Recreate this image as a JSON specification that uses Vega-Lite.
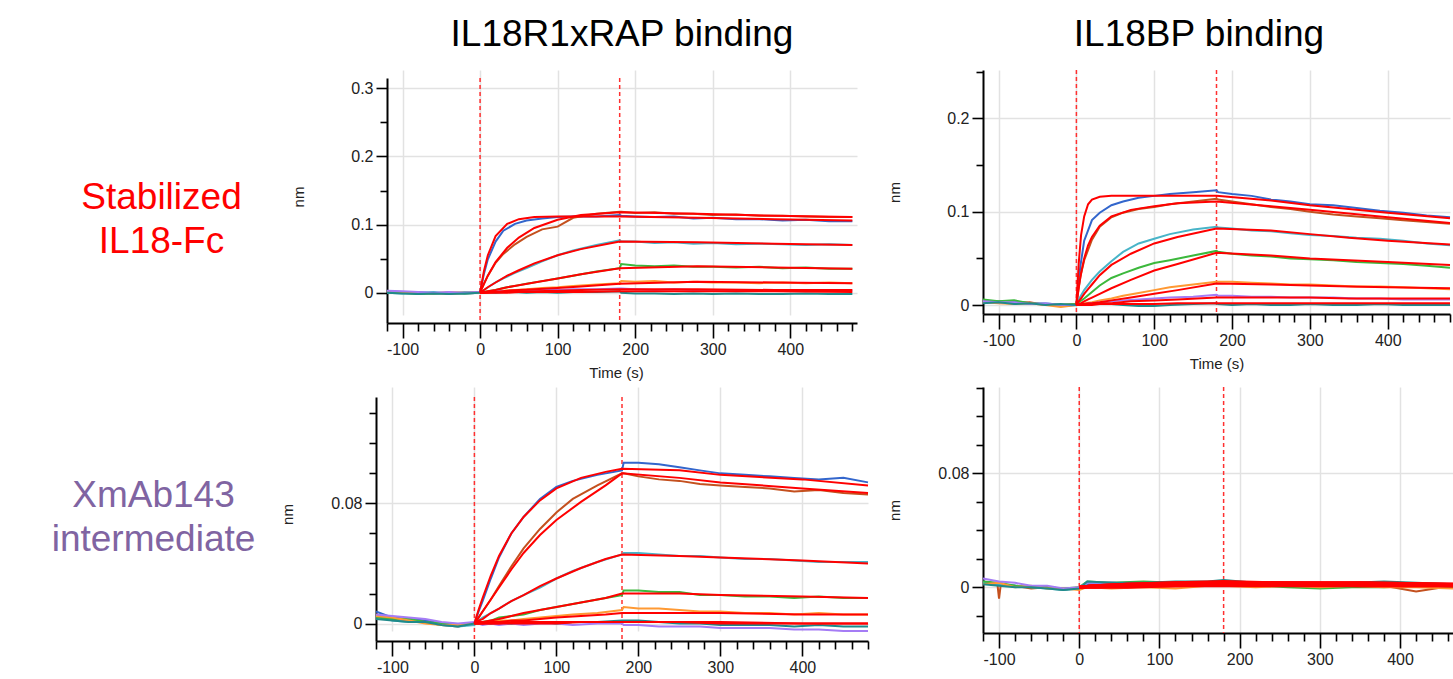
{
"$schema": "https://vega.github.io/schema/vega-lite/v6.json",
"padding": 0,
"background": "white",
"columns": 5,
"spacing": 0,
"align": "each",
"bounds": "flush",
"config": {
 "view": {"stroke": null},
 "axis": {"domainColor": "#000", "domainWidth": 2, "tickColor": "#000", "tickWidth": 1.6, "tickCount": 100, "labelFont": "Liberation Sans", "labelFontSize": 16, "labelColor": "#222", "labelFlush": false, "labelOverlap": false, "titleFont": "Liberation Sans", "titleFontSize": 15, "titleFontWeight": "normal", "titleColor": "#222", "gridColor": "#e2e2e2", "gridWidth": 1.5}
},
"datasets": {
 "vl": [{"t":0},{"t":180}],
 "t1": [{"txt":"IL18R1xRAP binding"}],
 "t2": [{"txt":"IL18BP binding"}],
 "r1": [{"txt":"Stabilized\nIL18-Fc"}],
 "r2": [{"txt":"XmAb143\nintermediate"}],
 "tl": [
{"s":"b","t":-120,"v":0.002},{"s":"b","t":-100,"v":0},{"s":"b","t":-80,"v":0.001},{"s":"b","t":-60,"v":-0.001},{"s":"b","t":-40,"v":0},{"s":"b","t":-20,"v":-0.001},{"s":"b","t":0,"v":0},
{"s":"b","t":5,"v":0.028},{"s":"b","t":10,"v":0.049},{"s":"b","t":20,"v":0.075},{"s":"b","t":30,"v":0.091},{"s":"b","t":45,"v":0.101},{"s":"b","t":60,"v":0.106},{"s":"b","t":80,"v":0.109},{"s":"b","t":100,"v":0.111},{"s":"b","t":120,"v":0.112},{"s":"b","t":150,"v":0.112},{"s":"b","t":180,"v":0.114},
{"s":"b","t":182,"v":0.113},{"s":"b","t":200,"v":0.112},{"s":"b","t":225,"v":0.111},{"s":"b","t":250,"v":0.112},{"s":"b","t":275,"v":0.109},{"s":"b","t":300,"v":0.11},{"s":"b","t":330,"v":0.108},{"s":"b","t":360,"v":0.108},{"s":"b","t":390,"v":0.106},{"s":"b","t":420,"v":0.107},{"s":"b","t":450,"v":0.105},{"s":"b","t":480,"v":0.105},
{"s":"r","t":-120,"v":0.001},{"s":"r","t":-100,"v":0.001},{"s":"r","t":-80,"v":-0.001},{"s":"r","t":-60,"v":0},{"s":"r","t":-40,"v":-0.002},{"s":"r","t":-20,"v":0},{"s":"r","t":0,"v":0.001},
{"s":"r","t":5,"v":0.013},{"s":"r","t":10,"v":0.025},{"s":"r","t":20,"v":0.044},{"s":"r","t":30,"v":0.057},{"s":"r","t":45,"v":0.071},{"s":"r","t":60,"v":0.082},{"s":"r","t":80,"v":0.093},{"s":"r","t":100,"v":0.097},{"s":"r","t":120,"v":0.11},{"s":"r","t":150,"v":0.116},{"s":"r","t":180,"v":0.119},
{"s":"r","t":182,"v":0.119},{"s":"r","t":200,"v":0.117},{"s":"r","t":225,"v":0.118},{"s":"r","t":250,"v":0.116},{"s":"r","t":275,"v":0.116},{"s":"r","t":300,"v":0.114},{"s":"r","t":330,"v":0.115},{"s":"r","t":360,"v":0.113},{"s":"r","t":390,"v":0.113},{"s":"r","t":420,"v":0.112},{"s":"r","t":450,"v":0.111},{"s":"r","t":480,"v":0.111},
{"s":"c","t":-120,"v":0},{"s":"c","t":-100,"v":-0.001},{"s":"c","t":-80,"v":0},{"s":"c","t":-60,"v":0.001},{"s":"c","t":-40,"v":-0.001},{"s":"c","t":-20,"v":0.001},{"s":"c","t":0,"v":0},
{"s":"c","t":5,"v":0.004},{"s":"c","t":10,"v":0.008},{"s":"c","t":20,"v":0.015},{"s":"c","t":30,"v":0.021},{"s":"c","t":45,"v":0.029},{"s":"c","t":60,"v":0.036},{"s":"c","t":80,"v":0.046},{"s":"c","t":100,"v":0.055},{"s":"c","t":120,"v":0.062},{"s":"c","t":150,"v":0.07},{"s":"c","t":180,"v":0.077},
{"s":"c","t":182,"v":0.075},{"s":"c","t":200,"v":0.075},{"s":"c","t":225,"v":0.073},{"s":"c","t":250,"v":0.074},{"s":"c","t":275,"v":0.072},{"s":"c","t":300,"v":0.073},{"s":"c","t":330,"v":0.071},{"s":"c","t":360,"v":0.072},{"s":"c","t":390,"v":0.071},{"s":"c","t":420,"v":0.07},{"s":"c","t":450,"v":0.071},{"s":"c","t":480,"v":0.07},
{"s":"g","t":-120,"v":0.001},{"s":"g","t":-100,"v":0},{"s":"g","t":-80,"v":-0.002},{"s":"g","t":-60,"v":-0.001},{"s":"g","t":-40,"v":0},{"s":"g","t":-20,"v":-0.001},{"s":"g","t":0,"v":0},
{"s":"g","t":5,"v":0.001},{"s":"g","t":10,"v":0.002},{"s":"g","t":20,"v":0.004},{"s":"g","t":30,"v":0.007},{"s":"g","t":45,"v":0.01},{"s":"g","t":60,"v":0.013},{"s":"g","t":80,"v":0.017},{"s":"g","t":100,"v":0.021},{"s":"g","t":120,"v":0.025},{"s":"g","t":150,"v":0.031},{"s":"g","t":180,"v":0.036},
{"s":"g","t":182,"v":0.042},{"s":"g","t":200,"v":0.04},{"s":"g","t":225,"v":0.039},{"s":"g","t":250,"v":0.04},{"s":"g","t":275,"v":0.038},{"s":"g","t":300,"v":0.038},{"s":"g","t":330,"v":0.037},{"s":"g","t":360,"v":0.038},{"s":"g","t":390,"v":0.036},{"s":"g","t":420,"v":0.037},{"s":"g","t":450,"v":0.035},{"s":"g","t":480,"v":0.035},
{"s":"o","t":-120,"v":0.002},{"s":"o","t":-100,"v":0.001},{"s":"o","t":-80,"v":0},{"s":"o","t":-60,"v":-0.001},{"s":"o","t":-40,"v":0.001},{"s":"o","t":-20,"v":0},{"s":"o","t":0,"v":0},
{"s":"o","t":5,"v":0},{"s":"o","t":10,"v":0.001},{"s":"o","t":20,"v":0.002},{"s":"o","t":30,"v":0.003},{"s":"o","t":45,"v":0.004},{"s":"o","t":60,"v":0.005},{"s":"o","t":80,"v":0.007},{"s":"o","t":100,"v":0.008},{"s":"o","t":120,"v":0.01},{"s":"o","t":150,"v":0.012},{"s":"o","t":180,"v":0.014},
{"s":"o","t":182,"v":0.017},{"s":"o","t":200,"v":0.016},{"s":"o","t":225,"v":0.017},{"s":"o","t":250,"v":0.015},{"s":"o","t":275,"v":0.016},{"s":"o","t":300,"v":0.015},{"s":"o","t":330,"v":0.015},{"s":"o","t":360,"v":0.014},{"s":"o","t":390,"v":0.015},{"s":"o","t":420,"v":0.014},{"s":"o","t":450,"v":0.015},{"s":"o","t":480,"v":0.014},
{"s":"p","t":-120,"v":0.003},{"s":"p","t":-100,"v":0.002},{"s":"p","t":-80,"v":0.001},{"s":"p","t":-60,"v":0},{"s":"p","t":-40,"v":0.001},{"s":"p","t":-20,"v":0},{"s":"p","t":0,"v":0.001},
{"s":"p","t":5,"v":0.001},{"s":"p","t":10,"v":0.001},{"s":"p","t":20,"v":0.002},{"s":"p","t":30,"v":0.002},{"s":"p","t":45,"v":0.003},{"s":"p","t":60,"v":0.003},{"s":"p","t":80,"v":0.004},{"s":"p","t":100,"v":0.004},{"s":"p","t":120,"v":0.005},{"s":"p","t":150,"v":0.005},{"s":"p","t":180,"v":0.006},
{"s":"p","t":182,"v":0.006},{"s":"p","t":200,"v":0.005},{"s":"p","t":225,"v":0.004},{"s":"p","t":250,"v":0.005},{"s":"p","t":275,"v":0.004},{"s":"p","t":300,"v":0.004},{"s":"p","t":330,"v":0.003},{"s":"p","t":360,"v":0.004},{"s":"p","t":390,"v":0.003},{"s":"p","t":420,"v":0.003},{"s":"p","t":450,"v":0.004},{"s":"p","t":480,"v":0.003},
{"s":"t","t":-120,"v":0},{"s":"t","t":-100,"v":-0.001},{"s":"t","t":-80,"v":-0.002},{"s":"t","t":-60,"v":-0.001},{"s":"t","t":-40,"v":-0.002},{"s":"t","t":-20,"v":-0.001},{"s":"t","t":0,"v":0},
{"s":"t","t":5,"v":0},{"s":"t","t":10,"v":0.001},{"s":"t","t":20,"v":0},{"s":"t","t":30,"v":0.001},{"s":"t","t":45,"v":0.001},{"s":"t","t":60,"v":0},{"s":"t","t":80,"v":0.001},{"s":"t","t":100,"v":0},{"s":"t","t":120,"v":0.001},{"s":"t","t":150,"v":0.001},{"s":"t","t":180,"v":0.002},
{"s":"t","t":182,"v":0},{"s":"t","t":200,"v":-0.001},{"s":"t","t":225,"v":-0.001},{"s":"t","t":250,"v":-0.002},{"s":"t","t":275,"v":-0.001},{"s":"t","t":300,"v":-0.002},{"s":"t","t":330,"v":-0.001},{"s":"t","t":360,"v":-0.002},{"s":"t","t":390,"v":-0.002},{"s":"t","t":420,"v":-0.001},{"s":"t","t":450,"v":-0.002},{"s":"t","t":480,"v":-0.002}
 ],
 "tlf": [
{"s":"b","t":0,"v":0},{"s":"b","t":5,"v":0.032},{"s":"b","t":10,"v":0.055},{"s":"b","t":20,"v":0.083},{"s":"b","t":35,"v":0.101},{"s":"b","t":50,"v":0.108},{"s":"b","t":70,"v":0.111},{"s":"b","t":100,"v":0.112},{"s":"b","t":130,"v":0.112},{"s":"b","t":180,"v":0.112},{"s":"b","t":280,"v":0.11},{"s":"b","t":380,"v":0.108},{"s":"b","t":480,"v":0.106},
{"s":"r","t":0,"v":0},{"s":"r","t":5,"v":0.013},{"s":"r","t":10,"v":0.025},{"s":"r","t":20,"v":0.045},{"s":"r","t":35,"v":0.066},{"s":"r","t":50,"v":0.081},{"s":"r","t":70,"v":0.095},{"s":"r","t":100,"v":0.107},{"s":"r","t":130,"v":0.114},{"s":"r","t":180,"v":0.118},{"s":"r","t":280,"v":0.116},{"s":"r","t":380,"v":0.113},{"s":"r","t":480,"v":0.111},
{"s":"c","t":0,"v":0},{"s":"c","t":5,"v":0.004},{"s":"c","t":10,"v":0.008},{"s":"c","t":20,"v":0.015},{"s":"c","t":35,"v":0.025},{"s":"c","t":50,"v":0.033},{"s":"c","t":70,"v":0.043},{"s":"c","t":100,"v":0.055},{"s":"c","t":130,"v":0.064},{"s":"c","t":180,"v":0.075},{"s":"c","t":280,"v":0.074},{"s":"c","t":380,"v":0.072},{"s":"c","t":480,"v":0.07},
{"s":"g","t":0,"v":0},{"s":"g","t":5,"v":0.001},{"s":"g","t":10,"v":0.002},{"s":"g","t":20,"v":0.004},{"s":"g","t":35,"v":0.008},{"s":"g","t":50,"v":0.011},{"s":"g","t":70,"v":0.015},{"s":"g","t":100,"v":0.021},{"s":"g","t":130,"v":0.027},{"s":"g","t":180,"v":0.036},{"s":"g","t":280,"v":0.039},{"s":"g","t":380,"v":0.037},{"s":"g","t":480,"v":0.035},
{"s":"o","t":0,"v":0},{"s":"o","t":5,"v":0},{"s":"o","t":10,"v":0.001},{"s":"o","t":20,"v":0.001},{"s":"o","t":35,"v":0.003},{"s":"o","t":50,"v":0.004},{"s":"o","t":70,"v":0.005},{"s":"o","t":100,"v":0.007},{"s":"o","t":130,"v":0.009},{"s":"o","t":180,"v":0.013},{"s":"o","t":280,"v":0.016},{"s":"o","t":380,"v":0.015},{"s":"o","t":480,"v":0.014},
{"s":"p","t":0,"v":0},{"s":"p","t":5,"v":0},{"s":"p","t":10,"v":0},{"s":"p","t":20,"v":0.001},{"s":"p","t":35,"v":0.001},{"s":"p","t":50,"v":0.002},{"s":"p","t":70,"v":0.002},{"s":"p","t":100,"v":0.003},{"s":"p","t":130,"v":0.004},{"s":"p","t":180,"v":0.005},{"s":"p","t":280,"v":0.005},{"s":"p","t":380,"v":0.004},{"s":"p","t":480,"v":0.004},
{"s":"t","t":0,"v":0},{"s":"t","t":5,"v":0},{"s":"t","t":10,"v":0},{"s":"t","t":20,"v":0},{"s":"t","t":35,"v":0},{"s":"t","t":50,"v":0.001},{"s":"t","t":70,"v":0.001},{"s":"t","t":100,"v":0.001},{"s":"t","t":130,"v":0.001},{"s":"t","t":180,"v":0.002},{"s":"t","t":280,"v":0.002},{"s":"t","t":380,"v":0.002},{"s":"t","t":480,"v":0.001}
 ],
 "tr": [
{"s":"b","t":-120,"v":0.005},{"s":"b","t":-100,"v":0.003},{"s":"b","t":-80,"v":0.004},{"s":"b","t":-60,"v":0.002},{"s":"b","t":-40,"v":0.001},{"s":"b","t":-20,"v":-0.001},{"s":"b","t":0,"v":0},
{"s":"b","t":5,"v":0.041},{"s":"b","t":10,"v":0.069},{"s":"b","t":20,"v":0.091},{"s":"b","t":30,"v":0.099},{"s":"b","t":45,"v":0.107},{"s":"b","t":60,"v":0.111},{"s":"b","t":80,"v":0.115},{"s":"b","t":100,"v":0.117},{"s":"b","t":120,"v":0.119},{"s":"b","t":150,"v":0.121},{"s":"b","t":180,"v":0.123},
{"s":"b","t":182,"v":0.121},{"s":"b","t":200,"v":0.119},{"s":"b","t":225,"v":0.117},{"s":"b","t":250,"v":0.113},{"s":"b","t":275,"v":0.111},{"s":"b","t":300,"v":0.108},{"s":"b","t":330,"v":0.107},{"s":"b","t":360,"v":0.104},{"s":"b","t":390,"v":0.101},{"s":"b","t":420,"v":0.099},{"s":"b","t":450,"v":0.096},{"s":"b","t":480,"v":0.094},
{"s":"r","t":-120,"v":0.004},{"s":"r","t":-100,"v":0.004},{"s":"r","t":-80,"v":0.002},{"s":"r","t":-60,"v":0.003},{"s":"r","t":-40,"v":0},{"s":"r","t":-20,"v":0},{"s":"r","t":0,"v":0.001},
{"s":"r","t":5,"v":0.03},{"s":"r","t":10,"v":0.048},{"s":"r","t":20,"v":0.07},{"s":"r","t":30,"v":0.084},{"s":"r","t":45,"v":0.094},{"s":"r","t":60,"v":0.099},{"s":"r","t":80,"v":0.103},{"s":"r","t":100,"v":0.105},{"s":"r","t":120,"v":0.108},{"s":"r","t":150,"v":0.111},{"s":"r","t":180,"v":0.114},
{"s":"r","t":182,"v":0.113},{"s":"r","t":200,"v":0.111},{"s":"r","t":225,"v":0.108},{"s":"r","t":250,"v":0.105},{"s":"r","t":275,"v":0.103},{"s":"r","t":300,"v":0.1},{"s":"r","t":330,"v":0.097},{"s":"r","t":360,"v":0.095},{"s":"r","t":390,"v":0.093},{"s":"r","t":420,"v":0.091},{"s":"r","t":450,"v":0.089},{"s":"r","t":480,"v":0.087},
{"s":"c","t":-120,"v":0.003},{"s":"c","t":-100,"v":0.004},{"s":"c","t":-80,"v":0.002},{"s":"c","t":-60,"v":0.001},{"s":"c","t":-40,"v":0.002},{"s":"c","t":-20,"v":0},{"s":"c","t":0,"v":0},
{"s":"c","t":5,"v":0.009},{"s":"c","t":10,"v":0.016},{"s":"c","t":20,"v":0.027},{"s":"c","t":30,"v":0.036},{"s":"c","t":45,"v":0.047},{"s":"c","t":60,"v":0.057},{"s":"c","t":80,"v":0.066},{"s":"c","t":100,"v":0.071},{"s":"c","t":120,"v":0.076},{"s":"c","t":150,"v":0.081},{"s":"c","t":180,"v":0.084},
{"s":"c","t":182,"v":0.083},{"s":"c","t":200,"v":0.082},{"s":"c","t":225,"v":0.08},{"s":"c","t":250,"v":0.079},{"s":"c","t":275,"v":0.077},{"s":"c","t":300,"v":0.075},{"s":"c","t":330,"v":0.074},{"s":"c","t":360,"v":0.072},{"s":"c","t":390,"v":0.071},{"s":"c","t":420,"v":0.069},{"s":"c","t":450,"v":0.066},{"s":"c","t":480,"v":0.064},
{"s":"g","t":-120,"v":0.006},{"s":"g","t":-100,"v":0.004},{"s":"g","t":-80,"v":0.005},{"s":"g","t":-60,"v":0.002},{"s":"g","t":-40,"v":0.001},{"s":"g","t":-20,"v":0},{"s":"g","t":0,"v":0.001},
{"s":"g","t":5,"v":0.004},{"s":"g","t":10,"v":0.007},{"s":"g","t":20,"v":0.014},{"s":"g","t":30,"v":0.021},{"s":"g","t":45,"v":0.029},{"s":"g","t":60,"v":0.034},{"s":"g","t":80,"v":0.04},{"s":"g","t":100,"v":0.045},{"s":"g","t":120,"v":0.048},{"s":"g","t":150,"v":0.053},{"s":"g","t":180,"v":0.058},
{"s":"g","t":182,"v":0.057},{"s":"g","t":200,"v":0.055},{"s":"g","t":225,"v":0.053},{"s":"g","t":250,"v":0.052},{"s":"g","t":275,"v":0.05},{"s":"g","t":300,"v":0.049},{"s":"g","t":330,"v":0.048},{"s":"g","t":360,"v":0.046},{"s":"g","t":390,"v":0.045},{"s":"g","t":420,"v":0.044},{"s":"g","t":450,"v":0.042},{"s":"g","t":480,"v":0.04},
{"s":"o","t":-120,"v":0.003},{"s":"o","t":-100,"v":0.002},{"s":"o","t":-80,"v":0.001},{"s":"o","t":-60,"v":0.002},{"s":"o","t":-40,"v":0},{"s":"o","t":-20,"v":-0.002},{"s":"o","t":0,"v":0},
{"s":"o","t":5,"v":0.001},{"s":"o","t":10,"v":0.002},{"s":"o","t":20,"v":0.003},{"s":"o","t":30,"v":0.005},{"s":"o","t":45,"v":0.007},{"s":"o","t":60,"v":0.01},{"s":"o","t":80,"v":0.013},{"s":"o","t":100,"v":0.016},{"s":"o","t":120,"v":0.019},{"s":"o","t":150,"v":0.022},{"s":"o","t":180,"v":0.025},
{"s":"o","t":182,"v":0.025},{"s":"o","t":200,"v":0.025},{"s":"o","t":225,"v":0.024},{"s":"o","t":250,"v":0.023},{"s":"o","t":275,"v":0.022},{"s":"o","t":300,"v":0.022},{"s":"o","t":330,"v":0.021},{"s":"o","t":360,"v":0.02},{"s":"o","t":390,"v":0.02},{"s":"o","t":420,"v":0.019},{"s":"o","t":450,"v":0.018},{"s":"o","t":480,"v":0.017},
{"s":"p","t":-120,"v":0.004},{"s":"p","t":-100,"v":0.003},{"s":"p","t":-80,"v":0.003},{"s":"p","t":-60,"v":0.001},{"s":"p","t":-40,"v":0.002},{"s":"p","t":-20,"v":0},{"s":"p","t":0,"v":0},
{"s":"p","t":5,"v":0.001},{"s":"p","t":10,"v":0.001},{"s":"p","t":20,"v":0.002},{"s":"p","t":30,"v":0.003},{"s":"p","t":45,"v":0.004},{"s":"p","t":60,"v":0.005},{"s":"p","t":80,"v":0.006},{"s":"p","t":100,"v":0.007},{"s":"p","t":120,"v":0.008},{"s":"p","t":150,"v":0.009},{"s":"p","t":180,"v":0.011},
{"s":"p","t":182,"v":0.01},{"s":"p","t":200,"v":0.01},{"s":"p","t":225,"v":0.009},{"s":"p","t":250,"v":0.009},{"s":"p","t":275,"v":0.008},{"s":"p","t":300,"v":0.008},{"s":"p","t":330,"v":0.008},{"s":"p","t":360,"v":0.007},{"s":"p","t":390,"v":0.007},{"s":"p","t":420,"v":0.006},{"s":"p","t":450,"v":0.006},{"s":"p","t":480,"v":0.006},
{"s":"t","t":-120,"v":0.002},{"s":"t","t":-100,"v":0.003},{"s":"t","t":-80,"v":0.001},{"s":"t","t":-60,"v":0.002},{"s":"t","t":-40,"v":0},{"s":"t","t":-20,"v":0.001},{"s":"t","t":0,"v":0},
{"s":"t","t":5,"v":0},{"s":"t","t":10,"v":0.001},{"s":"t","t":20,"v":0.001},{"s":"t","t":30,"v":0.002},{"s":"t","t":45,"v":0.001},{"s":"t","t":60,"v":0},{"s":"t","t":80,"v":-0.001},{"s":"t","t":100,"v":-0.001},{"s":"t","t":120,"v":0},{"s":"t","t":150,"v":0.001},{"s":"t","t":180,"v":0.002},
{"s":"t","t":182,"v":0.001},{"s":"t","t":200,"v":0},{"s":"t","t":225,"v":0.001},{"s":"t","t":250,"v":0},{"s":"t","t":275,"v":0},{"s":"t","t":300,"v":0.001},{"s":"t","t":330,"v":0},{"s":"t","t":360,"v":0},{"s":"t","t":390,"v":0.001},{"s":"t","t":420,"v":0},{"s":"t","t":450,"v":0},{"s":"t","t":480,"v":0}
 ],
 "trf": [
{"s":"b","t":0,"v":0},{"s":"b","t":3,"v":0.045},{"s":"b","t":6,"v":0.075},{"s":"b","t":10,"v":0.095},{"s":"b","t":15,"v":0.108},{"s":"b","t":20,"v":0.113},{"s":"b","t":30,"v":0.116},{"s":"b","t":45,"v":0.117},{"s":"b","t":70,"v":0.117},{"s":"b","t":100,"v":0.117},{"s":"b","t":130,"v":0.117},{"s":"b","t":180,"v":0.117},{"s":"b","t":250,"v":0.112},{"s":"b","t":300,"v":0.107},{"s":"b","t":350,"v":0.103},{"s":"b","t":400,"v":0.099},{"s":"b","t":480,"v":0.093},
{"s":"r","t":0,"v":0},{"s":"r","t":3,"v":0.019},{"s":"r","t":6,"v":0.034},{"s":"r","t":10,"v":0.05},{"s":"r","t":15,"v":0.064},{"s":"r","t":20,"v":0.073},{"s":"r","t":30,"v":0.085},{"s":"r","t":45,"v":0.095},{"s":"r","t":70,"v":0.102},{"s":"r","t":100,"v":0.106},{"s":"r","t":130,"v":0.109},{"s":"r","t":180,"v":0.111},{"s":"r","t":250,"v":0.106},{"s":"r","t":300,"v":0.102},{"s":"r","t":350,"v":0.098},{"s":"r","t":400,"v":0.094},{"s":"r","t":480,"v":0.088},
{"s":"c","t":0,"v":0},{"s":"c","t":3,"v":0.004},{"s":"c","t":6,"v":0.007},{"s":"c","t":10,"v":0.012},{"s":"c","t":15,"v":0.017},{"s":"c","t":20,"v":0.022},{"s":"c","t":30,"v":0.032},{"s":"c","t":45,"v":0.043},{"s":"c","t":70,"v":0.055},{"s":"c","t":100,"v":0.066},{"s":"c","t":130,"v":0.073},{"s":"c","t":180,"v":0.082},{"s":"c","t":250,"v":0.08},{"s":"c","t":300,"v":0.076},{"s":"c","t":350,"v":0.072},{"s":"c","t":400,"v":0.069},{"s":"c","t":480,"v":0.065},
{"s":"g","t":0,"v":0},{"s":"g","t":3,"v":0.001},{"s":"g","t":6,"v":0.002},{"s":"g","t":10,"v":0.004},{"s":"g","t":15,"v":0.006},{"s":"g","t":20,"v":0.008},{"s":"g","t":30,"v":0.012},{"s":"g","t":45,"v":0.018},{"s":"g","t":70,"v":0.027},{"s":"g","t":100,"v":0.037},{"s":"g","t":130,"v":0.044},{"s":"g","t":180,"v":0.056},{"s":"g","t":250,"v":0.053},{"s":"g","t":300,"v":0.05},{"s":"g","t":350,"v":0.048},{"s":"g","t":400,"v":0.046},{"s":"g","t":480,"v":0.043},
{"s":"o","t":0,"v":0},{"s":"o","t":3,"v":0},{"s":"o","t":6,"v":0.001},{"s":"o","t":10,"v":0.001},{"s":"o","t":15,"v":0.002},{"s":"o","t":20,"v":0.002},{"s":"o","t":30,"v":0.003},{"s":"o","t":45,"v":0.005},{"s":"o","t":70,"v":0.008},{"s":"o","t":100,"v":0.012},{"s":"o","t":130,"v":0.016},{"s":"o","t":180,"v":0.023},{"s":"o","t":250,"v":0.022},{"s":"o","t":300,"v":0.021},{"s":"o","t":350,"v":0.02},{"s":"o","t":400,"v":0.019},{"s":"o","t":480,"v":0.018},
{"s":"p","t":0,"v":0},{"s":"p","t":3,"v":0},{"s":"p","t":6,"v":0},{"s":"p","t":10,"v":0.001},{"s":"p","t":15,"v":0.001},{"s":"p","t":20,"v":0.001},{"s":"p","t":30,"v":0.002},{"s":"p","t":45,"v":0.002},{"s":"p","t":70,"v":0.004},{"s":"p","t":100,"v":0.005},{"s":"p","t":130,"v":0.006},{"s":"p","t":180,"v":0.008},{"s":"p","t":250,"v":0.008},{"s":"p","t":300,"v":0.008},{"s":"p","t":350,"v":0.007},{"s":"p","t":400,"v":0.007},{"s":"p","t":480,"v":0.007},
{"s":"t","t":0,"v":0},{"s":"t","t":3,"v":0},{"s":"t","t":6,"v":0},{"s":"t","t":10,"v":0},{"s":"t","t":15,"v":0},{"s":"t","t":20,"v":0},{"s":"t","t":30,"v":0.001},{"s":"t","t":45,"v":0.001},{"s":"t","t":70,"v":0.001},{"s":"t","t":100,"v":0.001},{"s":"t","t":130,"v":0.002},{"s":"t","t":180,"v":0.002},{"s":"t","t":250,"v":0.002},{"s":"t","t":300,"v":0.002},{"s":"t","t":350,"v":0.002},{"s":"t","t":400,"v":0.002},{"s":"t","t":480,"v":0.002}
 ],
 "bl": [
{"s":"b","t":-120,"v":0.008},{"s":"b","t":-100,"v":0.004},{"s":"b","t":-80,"v":0.003},{"s":"b","t":-60,"v":0.002},{"s":"b","t":-40,"v":0},{"s":"b","t":-20,"v":-0.001},{"s":"b","t":0,"v":0},
{"s":"b","t":5,"v":0.008},{"s":"b","t":10,"v":0.015},{"s":"b","t":20,"v":0.03},{"s":"b","t":30,"v":0.044},{"s":"b","t":45,"v":0.06},{"s":"b","t":60,"v":0.071},{"s":"b","t":80,"v":0.083},{"s":"b","t":100,"v":0.091},{"s":"b","t":120,"v":0.095},{"s":"b","t":150,"v":0.099},{"s":"b","t":180,"v":0.102},
{"s":"b","t":182,"v":0.107},{"s":"b","t":200,"v":0.107},{"s":"b","t":225,"v":0.106},{"s":"b","t":250,"v":0.104},{"s":"b","t":275,"v":0.102},{"s":"b","t":300,"v":0.1},{"s":"b","t":330,"v":0.099},{"s":"b","t":360,"v":0.098},{"s":"b","t":390,"v":0.097},{"s":"b","t":420,"v":0.096},{"s":"b","t":450,"v":0.097},{"s":"b","t":480,"v":0.094},
{"s":"r","t":-120,"v":0.006},{"s":"r","t":-100,"v":0.003},{"s":"r","t":-80,"v":0.002},{"s":"r","t":-60,"v":0.001},{"s":"r","t":-40,"v":-0.001},{"s":"r","t":-20,"v":-0.002},{"s":"r","t":0,"v":0},
{"s":"r","t":5,"v":0.004},{"s":"r","t":10,"v":0.008},{"s":"r","t":20,"v":0.016},{"s":"r","t":30,"v":0.025},{"s":"r","t":45,"v":0.038},{"s":"r","t":60,"v":0.05},{"s":"r","t":80,"v":0.063},{"s":"r","t":100,"v":0.074},{"s":"r","t":120,"v":0.083},{"s":"r","t":150,"v":0.092},{"s":"r","t":180,"v":0.1},
{"s":"r","t":182,"v":0.1},{"s":"r","t":200,"v":0.098},{"s":"r","t":225,"v":0.096},{"s":"r","t":250,"v":0.095},{"s":"r","t":275,"v":0.093},{"s":"r","t":300,"v":0.092},{"s":"r","t":330,"v":0.091},{"s":"r","t":360,"v":0.09},{"s":"r","t":390,"v":0.088},{"s":"r","t":420,"v":0.089},{"s":"r","t":450,"v":0.087},{"s":"r","t":480,"v":0.086},
{"s":"c","t":-120,"v":0.005},{"s":"c","t":-100,"v":0.002},{"s":"c","t":-80,"v":0.001},{"s":"c","t":-60,"v":0.001},{"s":"c","t":-40,"v":-0.001},{"s":"c","t":-20,"v":-0.002},{"s":"c","t":0,"v":-0.001},
{"s":"c","t":5,"v":0.002},{"s":"c","t":10,"v":0.004},{"s":"c","t":20,"v":0.007},{"s":"c","t":30,"v":0.01},{"s":"c","t":45,"v":0.015},{"s":"c","t":60,"v":0.019},{"s":"c","t":80,"v":0.024},{"s":"c","t":100,"v":0.03},{"s":"c","t":120,"v":0.035},{"s":"c","t":150,"v":0.041},{"s":"c","t":180,"v":0.046},
{"s":"c","t":182,"v":0.047},{"s":"c","t":200,"v":0.047},{"s":"c","t":225,"v":0.046},{"s":"c","t":250,"v":0.045},{"s":"c","t":275,"v":0.045},{"s":"c","t":300,"v":0.044},{"s":"c","t":330,"v":0.043},{"s":"c","t":360,"v":0.043},{"s":"c","t":390,"v":0.042},{"s":"c","t":420,"v":0.041},{"s":"c","t":450,"v":0.041},{"s":"c","t":480,"v":0.041},
{"s":"g","t":-120,"v":0.004},{"s":"g","t":-100,"v":0.003},{"s":"g","t":-80,"v":0.003},{"s":"g","t":-60,"v":0.001},{"s":"g","t":-40,"v":0},{"s":"g","t":-20,"v":-0.001},{"s":"g","t":0,"v":0},
{"s":"g","t":5,"v":0.001},{"s":"g","t":10,"v":0.001},{"s":"g","t":20,"v":0.002},{"s":"g","t":30,"v":0.004},{"s":"g","t":45,"v":0.005},{"s":"g","t":60,"v":0.006},{"s":"g","t":80,"v":0.009},{"s":"g","t":100,"v":0.011},{"s":"g","t":120,"v":0.013},{"s":"g","t":150,"v":0.016},{"s":"g","t":180,"v":0.019},
{"s":"g","t":182,"v":0.022},{"s":"g","t":200,"v":0.022},{"s":"g","t":225,"v":0.021},{"s":"g","t":250,"v":0.021},{"s":"g","t":275,"v":0.019},{"s":"g","t":300,"v":0.019},{"s":"g","t":330,"v":0.018},{"s":"g","t":360,"v":0.018},{"s":"g","t":390,"v":0.017},{"s":"g","t":420,"v":0.018},{"s":"g","t":450,"v":0.017},{"s":"g","t":480,"v":0.017},
{"s":"o","t":-120,"v":0.005},{"s":"o","t":-100,"v":0.004},{"s":"o","t":-80,"v":0.002},{"s":"o","t":-60,"v":0},{"s":"o","t":-40,"v":-0.001},{"s":"o","t":-20,"v":-0.001},{"s":"o","t":0,"v":0},
{"s":"o","t":5,"v":0},{"s":"o","t":10,"v":0.001},{"s":"o","t":20,"v":0.001},{"s":"o","t":30,"v":0.002},{"s":"o","t":45,"v":0.002},{"s":"o","t":60,"v":0.003},{"s":"o","t":80,"v":0.004},{"s":"o","t":100,"v":0.005},{"s":"o","t":120,"v":0.006},{"s":"o","t":150,"v":0.007},{"s":"o","t":180,"v":0.009},
{"s":"o","t":182,"v":0.011},{"s":"o","t":200,"v":0.01},{"s":"o","t":225,"v":0.01},{"s":"o","t":250,"v":0.009},{"s":"o","t":275,"v":0.008},{"s":"o","t":300,"v":0.008},{"s":"o","t":330,"v":0.007},{"s":"o","t":360,"v":0.007},{"s":"o","t":390,"v":0.006},{"s":"o","t":420,"v":0.007},{"s":"o","t":450,"v":0.006},{"s":"o","t":480,"v":0.006},
{"s":"p","t":-120,"v":0.006},{"s":"p","t":-100,"v":0.005},{"s":"p","t":-80,"v":0.004},{"s":"p","t":-60,"v":0.003},{"s":"p","t":-40,"v":0.001},{"s":"p","t":-20,"v":0},{"s":"p","t":0,"v":0.001},
{"s":"p","t":5,"v":0},{"s":"p","t":10,"v":-0.001},{"s":"p","t":20,"v":0},{"s":"p","t":30,"v":-0.001},{"s":"p","t":45,"v":0},{"s":"p","t":60,"v":-0.001},{"s":"p","t":80,"v":0},{"s":"p","t":100,"v":0},{"s":"p","t":120,"v":-0.001},{"s":"p","t":150,"v":0},{"s":"p","t":180,"v":0},
{"s":"p","t":182,"v":-0.001},{"s":"p","t":200,"v":-0.001},{"s":"p","t":225,"v":-0.002},{"s":"p","t":250,"v":-0.002},{"s":"p","t":275,"v":-0.002},{"s":"p","t":300,"v":-0.003},{"s":"p","t":330,"v":-0.003},{"s":"p","t":360,"v":-0.003},{"s":"p","t":390,"v":-0.004},{"s":"p","t":420,"v":-0.004},{"s":"p","t":450,"v":-0.005},{"s":"p","t":480,"v":-0.005},
{"s":"t","t":-120,"v":0.003},{"s":"t","t":-100,"v":0.002},{"s":"t","t":-80,"v":0.001},{"s":"t","t":-60,"v":0.001},{"s":"t","t":-40,"v":-0.001},{"s":"t","t":-20,"v":-0.002},{"s":"t","t":0,"v":0},
{"s":"t","t":5,"v":0},{"s":"t","t":10,"v":0.001},{"s":"t","t":20,"v":0},{"s":"t","t":30,"v":0.001},{"s":"t","t":45,"v":0},{"s":"t","t":60,"v":0.001},{"s":"t","t":80,"v":0.001},{"s":"t","t":100,"v":0},{"s":"t","t":120,"v":0.001},{"s":"t","t":150,"v":0.001},{"s":"t","t":180,"v":0.002},
{"s":"t","t":182,"v":0.002},{"s":"t","t":200,"v":0.002},{"s":"t","t":225,"v":0.001},{"s":"t","t":250,"v":0},{"s":"t","t":275,"v":0},{"s":"t","t":300,"v":-0.001},{"s":"t","t":330,"v":-0.001},{"s":"t","t":360,"v":-0.001},{"s":"t","t":390,"v":-0.002},{"s":"t","t":420,"v":-0.001},{"s":"t","t":450,"v":-0.002},{"s":"t","t":480,"v":-0.002}
 ],
 "blf": [
{"s":"b","t":0,"v":0},{"s":"b","t":5,"v":0.009},{"s":"b","t":10,"v":0.017},{"s":"b","t":20,"v":0.032},{"s":"b","t":30,"v":0.045},{"s":"b","t":45,"v":0.06},{"s":"b","t":60,"v":0.071},{"s":"b","t":80,"v":0.082},{"s":"b","t":100,"v":0.09},{"s":"b","t":130,"v":0.097},{"s":"b","t":160,"v":0.101},{"s":"b","t":180,"v":0.103},{"s":"b","t":250,"v":0.102},{"s":"b","t":300,"v":0.099},{"s":"b","t":400,"v":0.096},{"s":"b","t":480,"v":0.092},
{"s":"r","t":0,"v":0},{"s":"r","t":5,"v":0.004},{"s":"r","t":10,"v":0.008},{"s":"r","t":20,"v":0.016},{"s":"r","t":30,"v":0.024},{"s":"r","t":45,"v":0.036},{"s":"r","t":60,"v":0.047},{"s":"r","t":80,"v":0.059},{"s":"r","t":100,"v":0.069},{"s":"r","t":130,"v":0.081},{"s":"r","t":160,"v":0.092},{"s":"r","t":180,"v":0.1},{"s":"r","t":250,"v":0.097},{"s":"r","t":300,"v":0.094},{"s":"r","t":400,"v":0.09},{"s":"r","t":480,"v":0.087},
{"s":"c","t":0,"v":0},{"s":"c","t":5,"v":0.002},{"s":"c","t":10,"v":0.003},{"s":"c","t":20,"v":0.007},{"s":"c","t":30,"v":0.01},{"s":"c","t":45,"v":0.015},{"s":"c","t":60,"v":0.019},{"s":"c","t":80,"v":0.025},{"s":"c","t":100,"v":0.03},{"s":"c","t":130,"v":0.037},{"s":"c","t":160,"v":0.043},{"s":"c","t":180,"v":0.046},{"s":"c","t":250,"v":0.045},{"s":"c","t":300,"v":0.044},{"s":"c","t":400,"v":0.042},{"s":"c","t":480,"v":0.04},
{"s":"g","t":0,"v":0},{"s":"g","t":5,"v":0.001},{"s":"g","t":10,"v":0.001},{"s":"g","t":20,"v":0.002},{"s":"g","t":30,"v":0.003},{"s":"g","t":45,"v":0.005},{"s":"g","t":60,"v":0.007},{"s":"g","t":80,"v":0.009},{"s":"g","t":100,"v":0.011},{"s":"g","t":130,"v":0.014},{"s":"g","t":160,"v":0.017},{"s":"g","t":180,"v":0.02},{"s":"g","t":250,"v":0.02},{"s":"g","t":300,"v":0.019},{"s":"g","t":400,"v":0.018},{"s":"g","t":480,"v":0.017},
{"s":"o","t":0,"v":0},{"s":"o","t":5,"v":0},{"s":"o","t":10,"v":0},{"s":"o","t":20,"v":0.001},{"s":"o","t":30,"v":0.001},{"s":"o","t":45,"v":0.002},{"s":"o","t":60,"v":0.002},{"s":"o","t":80,"v":0.003},{"s":"o","t":100,"v":0.004},{"s":"o","t":130,"v":0.005},{"s":"o","t":160,"v":0.006},{"s":"o","t":180,"v":0.007},{"s":"o","t":250,"v":0.007},{"s":"o","t":300,"v":0.007},{"s":"o","t":400,"v":0.006},{"s":"o","t":480,"v":0.006},
{"s":"p","t":0,"v":0},{"s":"p","t":5,"v":0},{"s":"p","t":10,"v":0},{"s":"p","t":20,"v":0},{"s":"p","t":30,"v":0},{"s":"p","t":45,"v":0},{"s":"p","t":60,"v":0},{"s":"p","t":80,"v":0},{"s":"p","t":100,"v":0},{"s":"p","t":130,"v":0.001},{"s":"p","t":160,"v":0.001},{"s":"p","t":180,"v":0.001},{"s":"p","t":250,"v":0.001},{"s":"p","t":300,"v":0},{"s":"p","t":400,"v":0},{"s":"p","t":480,"v":0},
{"s":"t","t":0,"v":0},{"s":"t","t":5,"v":0},{"s":"t","t":10,"v":0},{"s":"t","t":20,"v":0},{"s":"t","t":30,"v":0},{"s":"t","t":45,"v":0.001},{"s":"t","t":60,"v":0.001},{"s":"t","t":80,"v":0.001},{"s":"t","t":100,"v":0.001},{"s":"t","t":130,"v":0.001},{"s":"t","t":160,"v":0.001},{"s":"t","t":180,"v":0.001},{"s":"t","t":250,"v":0.001},{"s":"t","t":300,"v":0.001},{"s":"t","t":400,"v":0},{"s":"t","t":480,"v":0}
 ],
 "br": [
{"s":"b","t":-120,"v":0.004},{"s":"b","t":-100,"v":0.002},{"s":"b","t":-80,"v":0.001},{"s":"b","t":-60,"v":0},{"s":"b","t":-40,"v":0},{"s":"b","t":-20,"v":-0.001},{"s":"b","t":0,"v":-0.001},
{"s":"b","t":10,"v":0.002},{"s":"b","t":40,"v":0.003},{"s":"b","t":80,"v":0.002},{"s":"b","t":120,"v":0.003},{"s":"b","t":160,"v":0.002},{"s":"b","t":180,"v":0.003},{"s":"b","t":220,"v":0.002},{"s":"b","t":260,"v":0.002},{"s":"b","t":300,"v":0.001},{"s":"b","t":340,"v":0.002},{"s":"b","t":380,"v":0.001},{"s":"b","t":420,"v":0.002},{"s":"b","t":466,"v":0.001},
{"s":"r","t":-120,"v":0.003},{"s":"r","t":-102,"v":0.002},{"s":"r","t":-100,"v":-0.008},{"s":"r","t":-98,"v":0.001},{"s":"r","t":-80,"v":0.001},{"s":"r","t":-60,"v":-0.001},{"s":"r","t":-40,"v":0},{"s":"r","t":-20,"v":-0.002},{"s":"r","t":0,"v":0},
{"s":"r","t":10,"v":0.001},{"s":"r","t":40,"v":0.002},{"s":"r","t":80,"v":0.001},{"s":"r","t":120,"v":0.002},{"s":"r","t":160,"v":0.003},{"s":"r","t":180,"v":0.002},{"s":"r","t":220,"v":0.001},{"s":"r","t":260,"v":0.002},{"s":"r","t":300,"v":0.001},{"s":"r","t":340,"v":0.002},{"s":"r","t":380,"v":0.001},{"s":"r","t":420,"v":-0.003},{"s":"r","t":466,"v":0.001},
{"s":"c","t":-120,"v":0.003},{"s":"c","t":-100,"v":0.002},{"s":"c","t":-80,"v":0.001},{"s":"c","t":-60,"v":0},{"s":"c","t":-40,"v":-0.001},{"s":"c","t":-20,"v":-0.002},{"s":"c","t":0,"v":-0.001},
{"s":"c","t":10,"v":0.003},{"s":"c","t":40,"v":0.003},{"s":"c","t":80,"v":0.002},{"s":"c","t":120,"v":0.003},{"s":"c","t":160,"v":0.003},{"s":"c","t":180,"v":0.003},{"s":"c","t":220,"v":0.002},{"s":"c","t":260,"v":0.002},{"s":"c","t":300,"v":0.002},{"s":"c","t":340,"v":0.001},{"s":"c","t":380,"v":0.002},{"s":"c","t":420,"v":0.001},{"s":"c","t":466,"v":0.002},
{"s":"g","t":-120,"v":0.004},{"s":"g","t":-100,"v":0.003},{"s":"g","t":-80,"v":0.001},{"s":"g","t":-60,"v":0},{"s":"g","t":-40,"v":0},{"s":"g","t":-20,"v":-0.001},{"s":"g","t":0,"v":0},
{"s":"g","t":10,"v":0.004},{"s":"g","t":40,"v":0.003},{"s":"g","t":80,"v":0.004},{"s":"g","t":120,"v":0.003},{"s":"g","t":160,"v":0.002},{"s":"g","t":180,"v":0.003},{"s":"g","t":220,"v":0.001},{"s":"g","t":260,"v":0},{"s":"g","t":300,"v":-0.001},{"s":"g","t":340,"v":0},{"s":"g","t":380,"v":0},{"s":"g","t":420,"v":0.001},{"s":"g","t":466,"v":0},
{"s":"o","t":-120,"v":0.002},{"s":"o","t":-100,"v":0.003},{"s":"o","t":-80,"v":0},{"s":"o","t":-60,"v":0.001},{"s":"o","t":-40,"v":-0.001},{"s":"o","t":-20,"v":-0.001},{"s":"o","t":0,"v":-0.002},
{"s":"o","t":10,"v":0},{"s":"o","t":40,"v":-0.001},{"s":"o","t":80,"v":0},{"s":"o","t":120,"v":-0.001},{"s":"o","t":160,"v":0.001},{"s":"o","t":180,"v":0.001},{"s":"o","t":220,"v":0},{"s":"o","t":260,"v":0.001},{"s":"o","t":300,"v":0},{"s":"o","t":340,"v":0.001},{"s":"o","t":380,"v":0},{"s":"o","t":420,"v":0},{"s":"o","t":466,"v":-0.001},
{"s":"p","t":-120,"v":0.006},{"s":"p","t":-100,"v":0.004},{"s":"p","t":-80,"v":0.003},{"s":"p","t":-60,"v":0.001},{"s":"p","t":-40,"v":0.001},{"s":"p","t":-20,"v":-0.001},{"s":"p","t":0,"v":0},
{"s":"p","t":10,"v":0.003},{"s":"p","t":40,"v":0.003},{"s":"p","t":80,"v":0.002},{"s":"p","t":120,"v":0.003},{"s":"p","t":160,"v":0.002},{"s":"p","t":180,"v":0.004},{"s":"p","t":220,"v":0.002},{"s":"p","t":260,"v":0.003},{"s":"p","t":300,"v":0.001},{"s":"p","t":340,"v":0.002},{"s":"p","t":380,"v":0.001},{"s":"p","t":420,"v":0.002},{"s":"p","t":466,"v":0.001},
{"s":"t","t":-120,"v":0.002},{"s":"t","t":-100,"v":0.001},{"s":"t","t":-80,"v":0},{"s":"t","t":-60,"v":0},{"s":"t","t":-40,"v":-0.001},{"s":"t","t":-20,"v":-0.002},{"s":"t","t":0,"v":-0.001},
{"s":"t","t":10,"v":0.004},{"s":"t","t":40,"v":0.003},{"s":"t","t":80,"v":0.003},{"s":"t","t":120,"v":0.004},{"s":"t","t":160,"v":0.004},{"s":"t","t":180,"v":0.005},{"s":"t","t":220,"v":0.003},{"s":"t","t":260,"v":0.002},{"s":"t","t":300,"v":0.002},{"s":"t","t":340,"v":0.003},{"s":"t","t":380,"v":0.004},{"s":"t","t":420,"v":0.003},{"s":"t","t":466,"v":0.002}
 ],
 "brf": [
{"s":"b","t":0,"v":0},{"s":"b","t":20,"v":0.001},{"s":"b","t":60,"v":0.002},{"s":"b","t":120,"v":0.002},{"s":"b","t":180,"v":0.003},{"s":"b","t":250,"v":0.003},{"s":"b","t":350,"v":0.002},{"s":"b","t":466,"v":0.002},
{"s":"r","t":0,"v":0},{"s":"r","t":20,"v":0.001},{"s":"r","t":60,"v":0.001},{"s":"r","t":120,"v":0.002},{"s":"r","t":180,"v":0.002},{"s":"r","t":250,"v":0.002},{"s":"r","t":350,"v":0.002},{"s":"r","t":466,"v":0.001},
{"s":"c","t":0,"v":0},{"s":"c","t":20,"v":0.001},{"s":"c","t":60,"v":0.002},{"s":"c","t":120,"v":0.003},{"s":"c","t":180,"v":0.003},{"s":"c","t":250,"v":0.003},{"s":"c","t":350,"v":0.003},{"s":"c","t":466,"v":0.002},
{"s":"g","t":0,"v":0},{"s":"g","t":20,"v":0},{"s":"g","t":60,"v":0.001},{"s":"g","t":120,"v":0.001},{"s":"g","t":180,"v":0.002},{"s":"g","t":250,"v":0.002},{"s":"g","t":350,"v":0.001},{"s":"g","t":466,"v":0.001},
{"s":"o","t":0,"v":0},{"s":"o","t":20,"v":0},{"s":"o","t":60,"v":0},{"s":"o","t":120,"v":0.001},{"s":"o","t":180,"v":0.001},{"s":"o","t":250,"v":0.001},{"s":"o","t":350,"v":0.001},{"s":"o","t":466,"v":0.001},
{"s":"p","t":0,"v":0},{"s":"p","t":20,"v":0.001},{"s":"p","t":60,"v":0.001},{"s":"p","t":120,"v":0.002},{"s":"p","t":180,"v":0.002},{"s":"p","t":250,"v":0.002},{"s":"p","t":350,"v":0.002},{"s":"p","t":466,"v":0.001},
{"s":"t","t":0,"v":0},{"s":"t","t":20,"v":0.001},{"s":"t","t":60,"v":0.002},{"s":"t","t":120,"v":0.003},{"s":"t","t":180,"v":0.004},{"s":"t","t":250,"v":0.003},{"s":"t","t":350,"v":0.003},{"s":"t","t":466,"v":0.002}
 ]
},
"concat": [
 {"width": 315, "height": 70, "data": {"values": []}, "mark": {"type": "point", "opacity": 0}},
 {"width": 61, "height": 70, "data": {"values": []}, "mark": {"type": "point", "opacity": 0}},
 {"width": 492, "height": 70, "data": {"name": "t1"}, "mark": {"type": "text", "font": "Liberation Sans", "fontSize": 37, "color": "#000", "align": "center", "baseline": "middle"}, "encoding": {"text": {"field": "txt", "type": "nominal"}}},
 {"width": 115, "height": 70, "data": {"values": []}, "mark": {"type": "point", "opacity": 0}},
 {"width": 470, "height": 70, "data": {"name": "t2"}, "mark": {"type": "text", "font": "Liberation Sans", "fontSize": 37, "color": "#000", "align": "center", "baseline": "middle", "dx": -19}, "encoding": {"text": {"field": "txt", "type": "nominal"}}},

 {"width": 315, "height": 256, "data": {"name": "r1"}, "mark": {"type": "text", "font": "Liberation Sans", "fontSize": 37, "color": "#ff0000", "align": "center", "baseline": "middle", "lineBreak": "\n", "lineHeight": 44, "dx": 4}, "encoding": {"text": {"field": "txt", "type": "nominal"}}},
 {"width": 61, "height": 10, "data": {"values": []}, "mark": {"type": "point", "opacity": 0}},
 {"width": 481, "height": 253,
  "layer": [
   {"data": {"name": "vl"}, "mark": {"type": "rule", "color": "#ff3030", "strokeDash": [4,3], "strokeWidth": 1.5},
    "encoding": {"x": {"field": "t", "type": "quantitative", "scale": {"domain": [-134.2,486], "nice": false, "zero": false},
     "axis": {"values": [-120,-100,-80,-60,-40,-20,0,20,40,60,80,100,120,140,160,180,200,220,240,260,280,300,320,340,360,380,400,420,440,460,480], "labelExpr": "datum.value % 100 === 0 ? '' + datum.value : ''", "tickSize": {"condition": {"test": "datum.value % 100 === 0", "value": 15}, "value": 8}, "grid": true, "gridDash": [245,3000], "gridOpacity": {"condition": {"test": "datum.value % 100 === 0", "value": 1}, "value": 0}, "domainDash": [0,11,3000,0], "labelPadding": 3, "title": "Time (s)", "titlePadding": 8, "titleX": 240}},
     "y": {"datum": 0.3153, "type": "quantitative", "scale": {"domain": [-0.0445,0.327], "nice": false, "zero": false}},
     "y2": {"datum": -0.0445}}},
   {"data": {"name": "tl"}, "mark": {"type": "line", "strokeWidth": 2},
    "encoding": {"x": {"field": "t", "type": "quantitative", "scale": {"domain": [-134.2,486], "nice": false, "zero": false}},
     "y": {"field": "v", "type": "quantitative", "scale": {"domain": [-0.0445,0.327], "nice": false, "zero": false},
      "axis": {"values": [0,0.05,0.1,0.15,0.2,0.25,0.3], "offset": -11, "labelExpr": "indexof([0,0.1,0.2,0.3],datum.value) >= 0 ? '' + datum.value : ''", "tickSize": {"condition": {"test": "indexof([0,0.1,0.2,0.3],datum.value) >= 0", "value": 11}, "value": 7}, "grid": true, "gridDash": [0,11,3000,0], "domainDash": [245,3000], "gridOpacity": {"condition": {"test": "indexof([0,0.1,0.2,0.3],datum.value) >= 0", "value": 1}, "value": 0}, "labelPadding": 3, "title": "nm", "titlePadding": 44}},
     "color": {"field": "s", "type": "nominal", "scale": {"domain": ["b","r","c","g","o","p","t"], "range": ["#3366cc","#c4501e","#48b4c8","#3cb83c","#ff9933","#a57cf5","#1f8a8a"]}, "legend": null}}},
   {"data": {"name": "tlf"}, "mark": {"type": "line", "color": "#ff0000", "strokeWidth": 2},
    "encoding": {"x": {"field": "t", "type": "quantitative", "scale": {"domain": [-134.2,486], "nice": false, "zero": false}},
     "y": {"field": "v", "type": "quantitative", "scale": {"domain": [-0.0445,0.327], "nice": false, "zero": false}},
     "detail": {"field": "s", "type": "nominal"}}}
  ]},
 {"width": 115, "height": 10, "data": {"values": []}, "mark": {"type": "point", "opacity": 0}},
 {"width": 467, "height": 244,
  "layer": [
   {"data": {"name": "vl"}, "mark": {"type": "rule", "color": "#ff3030", "strokeDash": [4,3], "strokeWidth": 1.5},
    "encoding": {"x": {"field": "t", "type": "quantitative", "scale": {"domain": [-120,480], "nice": false, "zero": false},
     "axis": {"values": [-120,-100,-80,-60,-40,-20,0,20,40,60,80,100,120,140,160,180,200,220,240,260,280,300,320,340,360,380,400,420,440,460,480], "labelExpr": "datum.value % 100 === 0 ? '' + datum.value : ''", "tickSize": {"condition": {"test": "datum.value % 100 === 0", "value": 15}, "value": 8}, "grid": true, "gridOpacity": {"condition": {"test": "datum.value % 100 === 0", "value": 1}, "value": 0}, "labelPadding": 3, "title": "Time (s)", "titlePadding": 8}}}},
   {"data": {"name": "tr"}, "mark": {"type": "line", "strokeWidth": 2},
    "encoding": {"x": {"field": "t", "type": "quantitative", "scale": {"domain": [-120,480], "nice": false, "zero": false}},
     "y": {"field": "v", "type": "quantitative", "scale": {"domain": [-0.0096,0.2519], "nice": false, "zero": false},
      "axis": {"values": [0,0.05,0.1,0.15,0.2,0.25], "labelExpr": "indexof([0,0.1,0.2],datum.value) >= 0 ? '' + datum.value : ''", "tickSize": {"condition": {"test": "indexof([0,0.1,0.2],datum.value) >= 0", "value": 11}, "value": 7}, "grid": true, "gridOpacity": {"condition": {"test": "indexof([0,0.1,0.2],datum.value) >= 0", "value": 1}, "value": 0}, "labelPadding": 3, "title": "nm", "titlePadding": 44}},
     "color": {"field": "s", "type": "nominal", "scale": {"domain": ["b","r","c","g","o","p","t"], "range": ["#3366cc","#c4501e","#48b4c8","#3cb83c","#ff9933","#a57cf5","#1f8a8a"]}, "legend": null}}},
   {"data": {"name": "trf"}, "mark": {"type": "line", "color": "#ff0000", "strokeWidth": 2},
    "encoding": {"x": {"field": "t", "type": "quantitative", "scale": {"domain": [-120,480], "nice": false, "zero": false}},
     "y": {"field": "v", "type": "quantitative", "scale": {"domain": [-0.0096,0.2519], "nice": false, "zero": false}},
     "detail": {"field": "s", "type": "nominal"}}}
  ]},

 {"width": 315, "height": 61, "data": {"values": []}, "mark": {"type": "point", "opacity": 0}},
 {"width": 61, "height": 61, "data": {"values": []}, "mark": {"type": "point", "opacity": 0}},
 {"width": 492, "height": 61, "data": {"values": []}, "mark": {"type": "point", "opacity": 0}},
 {"width": 115, "height": 61, "data": {"values": []}, "mark": {"type": "point", "opacity": 0}},
 {"width": 470, "height": 61, "data": {"values": []}, "mark": {"type": "point", "opacity": 0}},

 {"width": 315, "height": 218, "data": {"name": "r2"}, "mark": {"type": "text", "font": "Liberation Sans", "fontSize": 37, "color": "#8064a2", "align": "center", "baseline": "middle", "lineBreak": "\n", "lineHeight": 44, "dx": -4}, "encoding": {"text": {"field": "txt", "type": "nominal"}}},
 {"width": 61, "height": 10, "data": {"values": []}, "mark": {"type": "point", "opacity": 0}},
 {"width": 492, "height": 254,
  "layer": [
   {"data": {"name": "vl"}, "mark": {"type": "rule", "color": "#ff3030", "strokeDash": [4,3], "strokeWidth": 1.5},
    "encoding": {"x": {"field": "t", "type": "quantitative", "scale": {"domain": [-120,480], "nice": false, "zero": false},
     "axis": {"values": [-120,-100,-80,-60,-40,-20,0,20,40,60,80,100,120,140,160,180,200,220,240,260,280,300,320,340,360,380,400,420,440,460,480], "labelExpr": "datum.value % 100 === 0 ? '' + datum.value : ''", "tickSize": {"condition": {"test": "datum.value % 100 === 0", "value": 15}, "value": 8}, "grid": true, "gridDash": [244,3000], "gridOpacity": {"condition": {"test": "datum.value % 100 === 0", "value": 1}, "value": 0}, "labelPadding": 3, "title": null}},
     "y": {"datum": 0.1508, "type": "quantitative", "scale": {"domain": [-0.0116,0.1575], "nice": false, "zero": false}},
     "y2": {"datum": -0.0116}}},
   {"data": {"name": "bl"}, "mark": {"type": "line", "strokeWidth": 2},
    "encoding": {"x": {"field": "t", "type": "quantitative", "scale": {"domain": [-120,480], "nice": false, "zero": false}},
     "y": {"field": "v", "type": "quantitative", "scale": {"domain": [-0.0116,0.1575], "nice": false, "zero": false},
      "axis": {"values": [0,0.02,0.04,0.06,0.08,0.1,0.12,0.14], "labelExpr": "indexof([0,0.08],datum.value) >= 0 ? '' + datum.value : ''", "tickSize": {"condition": {"test": "indexof([0,0.08],datum.value) >= 0", "value": 11}, "value": 7}, "grid": true, "domainDash": [244,3000], "gridOpacity": {"condition": {"test": "indexof([0,0.08],datum.value) >= 0", "value": 1}, "value": 0}, "labelPadding": 3, "title": "nm", "titlePadding": 35}},
     "color": {"field": "s", "type": "nominal", "scale": {"domain": ["b","r","c","g","o","p","t"], "range": ["#3366cc","#c4501e","#48b4c8","#3cb83c","#ff9933","#a57cf5","#1f8a8a"]}, "legend": null}}},
   {"data": {"name": "blf"}, "mark": {"type": "line", "color": "#ff0000", "strokeWidth": 2},
    "encoding": {"x": {"field": "t", "type": "quantitative", "scale": {"domain": [-120,480], "nice": false, "zero": false}},
     "y": {"field": "v", "type": "quantitative", "scale": {"domain": [-0.0116,0.1575], "nice": false, "zero": false}},
     "detail": {"field": "s", "type": "nominal"}}}
  ]},
 {"width": 115, "height": 10, "data": {"values": []}, "mark": {"type": "point", "opacity": 0}},
 {"width": 470, "height": 246,
  "layer": [
   {"data": {"name": "vl"}, "mark": {"type": "rule", "color": "#ff3030", "strokeDash": [4,3], "strokeWidth": 1.5},
    "encoding": {"x": {"field": "t", "type": "quantitative", "scale": {"domain": [-120,466], "nice": false, "zero": false},
     "axis": {"values": [-120,-100,-80,-60,-40,-20,0,20,40,60,80,100,120,140,160,180,200,220,240,260,280,300,320,340,360,380,400,420,440,460], "labelExpr": "datum.value % 100 === 0 ? '' + datum.value : ''", "tickSize": {"condition": {"test": "datum.value % 100 === 0", "value": 15}, "value": 8}, "grid": true, "gridOpacity": {"condition": {"test": "datum.value % 100 === 0", "value": 1}, "value": 0}, "labelPadding": 3, "title": null}}}},
   {"data": {"name": "br"}, "mark": {"type": "line", "strokeWidth": 2},
    "encoding": {"x": {"field": "t", "type": "quantitative", "scale": {"domain": [-120,466], "nice": false, "zero": false}},
     "y": {"field": "v", "type": "quantitative", "scale": {"domain": [-0.0322,0.1405], "nice": false, "zero": false},
      "axis": {"values": [-0.02,0,0.02,0.04,0.06,0.08,0.1,0.12,0.14], "labelExpr": "indexof([0,0.08],datum.value) >= 0 ? '' + datum.value : ''", "tickSize": {"condition": {"test": "indexof([0,0.08],datum.value) >= 0", "value": 11}, "value": 7}, "grid": true, "gridOpacity": {"condition": {"test": "indexof([0,0.08],datum.value) >= 0", "value": 1}, "value": 0}, "labelPadding": 3, "title": "nm", "titlePadding": 35}},
     "color": {"field": "s", "type": "nominal", "scale": {"domain": ["b","r","c","g","o","p","t"], "range": ["#3366cc","#c4501e","#48b4c8","#3cb83c","#ff9933","#a57cf5","#1f8a8a"]}, "legend": null}}},
   {"data": {"name": "brf"}, "mark": {"type": "line", "color": "#ff0000", "strokeWidth": 3},
    "encoding": {"x": {"field": "t", "type": "quantitative", "scale": {"domain": [-120,466], "nice": false, "zero": false}},
     "y": {"field": "v", "type": "quantitative", "scale": {"domain": [-0.0322,0.1405], "nice": false, "zero": false}},
     "detail": {"field": "s", "type": "nominal"}}}
  ]}
]
}
